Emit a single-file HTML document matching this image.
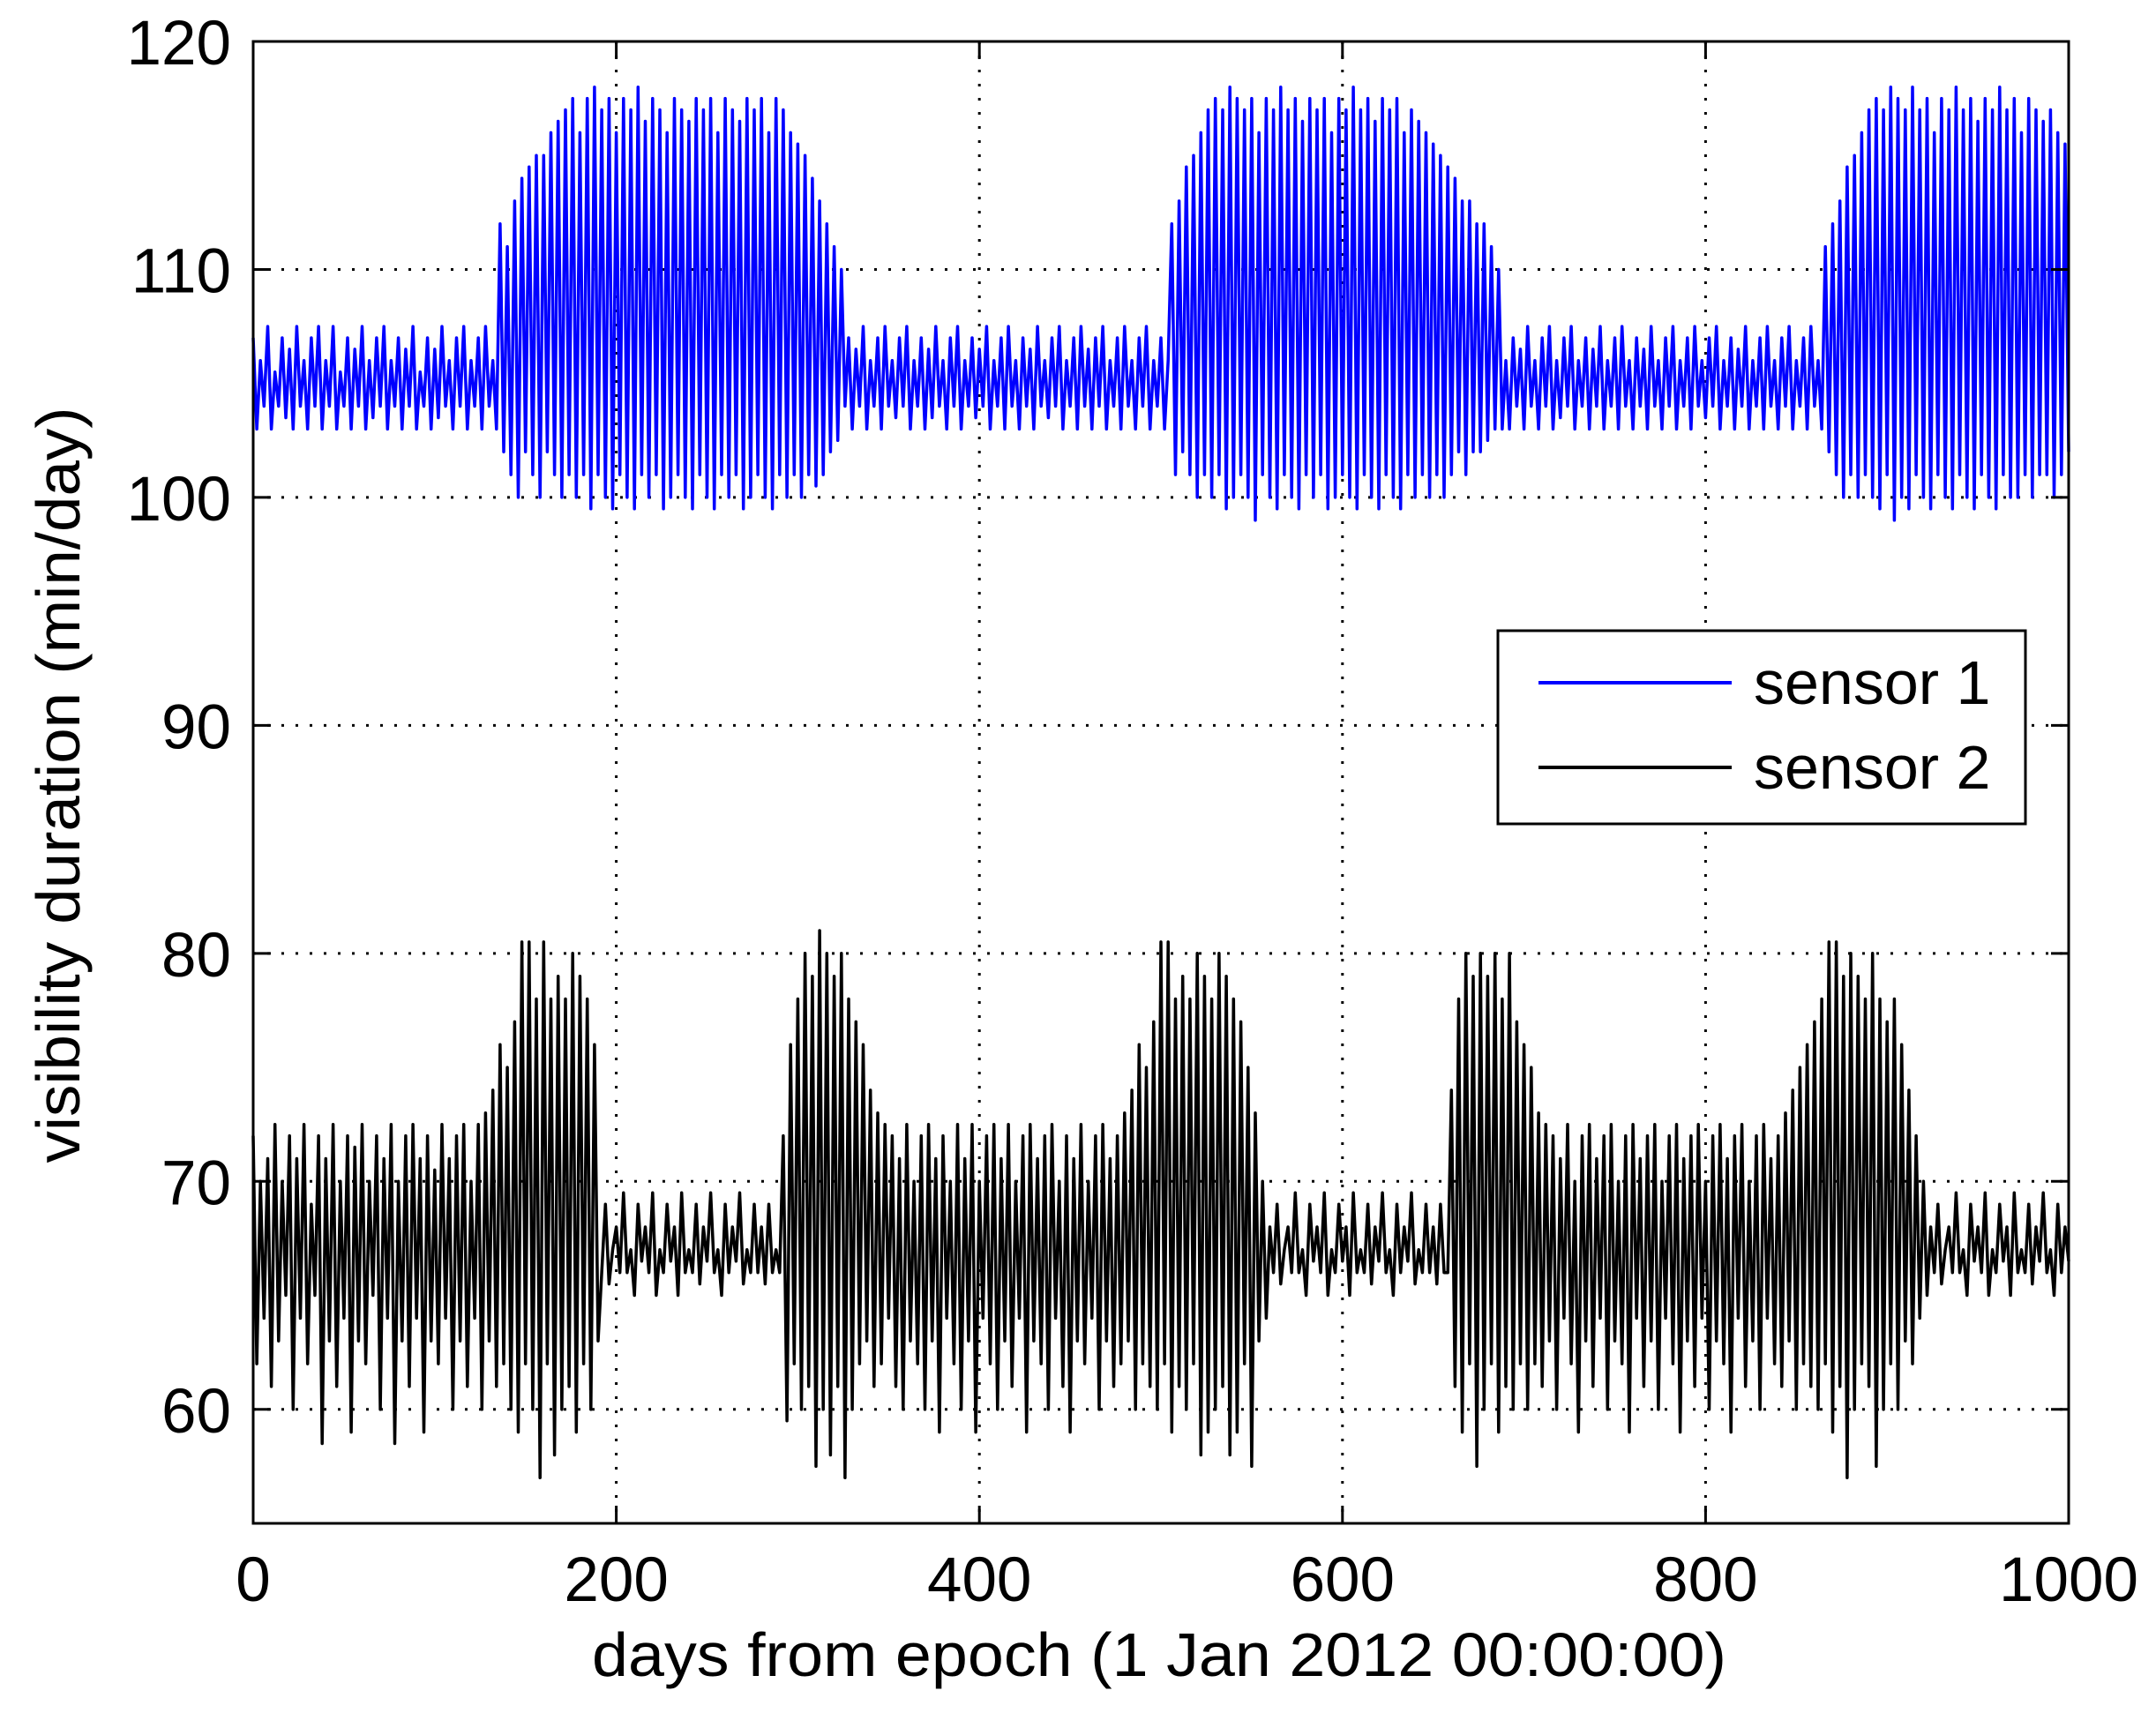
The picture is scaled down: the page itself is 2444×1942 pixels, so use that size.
<!DOCTYPE html>
<html><head><meta charset="utf-8"><style>
html,body{margin:0;padding:0;background:#fff}
svg{display:block;font-family:"Liberation Sans",Arial,sans-serif}
</style></head><body>
<svg id="chart" width="2444" height="1942" viewBox="0 0 2444 1942" xmlns="http://www.w3.org/2000/svg">
<rect width="2444" height="1942" fill="#fff"/>
<g id="grid"></g>
<g id="series"></g>
<rect x="287" y="47" width="2058" height="1680" fill="none" stroke="#000" stroke-width="3"/>
<g id="ticks"></g>
<text x="1314" y="1900" font-size="70" text-anchor="middle" textLength="1286" lengthAdjust="spacingAndGlyphs">days from epoch (1 Jan 2012 00:00:00)</text>
<text transform="translate(90,890) rotate(-90)" font-size="70" text-anchor="middle" textLength="857" lengthAdjust="spacingAndGlyphs">visibility duration (min/day)</text>
<g>
<rect x="1698" y="715" width="598" height="219" fill="#fff" stroke="#000" stroke-width="3"/>
<line x1="1744" y1="774" x2="1963" y2="774" stroke="#0000ff" stroke-width="4"/>
<text x="1988" y="798" font-size="70">sensor 1</text>
<line x1="1744" y1="870" x2="1963" y2="870" stroke="#000" stroke-width="4"/>
<text x="1988" y="894" font-size="70">sensor 2</text>
</g>
</svg>
<script>
const xTicks = [0,200,400,600,800,1000];
const yTicks = [60,70,80,90,100,110,120];
const xTickLabels = ["0","200","400","600","800","1000"];
const yTickLabels = ["60","70","80","90","100","110","120"];
const dayStep = 2;
const sensor1 = [
107,103,106,104,107.5,103,105.5,104,107,103.5,106.5,103,107.5,104,106,103,107,104,107.5,103,
106,104,107.5,103,105.5,104,107,103,106.5,104,107.5,103,106,103.5,107,104,107.5,103,106,104,
107,103,106.5,104,107.5,103,105.5,104,107,103,106.5,103.5,107.5,104,106,103,107,104,107.5,103,
106,104,107,103,107.5,104,106,103,
112,102,111,101,113,100,114,102,114.5,101,115,100,115,102,116,101,116.5,100,117,101,
117.5,100,116,101,117.5,99.5,118,101,117,100,117.5,99.5,116,101,117.5,100,117,99.5,118,101,
116.5,100,117.5,101,117,99.5,116,100,117.5,101,117,100,116.5,99.5,117.5,101,117,100,117.5,99.5,
116,101,117.5,100,117,101,116.5,99.5,117.5,100,117,101,117.5,100,116,99.5,117.5,101,117,100,
116,101,115.5,100,115,101,114,100.5,113,101,112,102,111,102.5,110,
104,107,103,106.5,104,107.5,103,106,104,107,103,107.5,104,106,103.5,107,104,107.5,103,106,
104,107,103,106.5,103.5,107.5,104,106,103,107,104,107.5,103,106,104,107,103.5,106.5,104,107.5,
103,106,104,107,103,107.5,104,106,103,107,104,106.5,103,107.5,104,106,103.5,107,104,107.5,
103,106,104,107,103,107.5,104,106.5,103,107,104,107.5,103,106,104,107,103,107.5,104,106,
103,107,104,107.5,103,106,104,107,103,106,
112,101,113,102,114.5,101,115,100,116,101,117,100,117.5,101,117,99.5,118,100,117.5,101,
117,100,117.5,99,116,101,117.5,100,117,99.5,118,101,117,100,117.5,99.5,116.5,101,117.5,100,
117,101,117.5,99.5,116,100,117.5,101,117,100,118,99.5,117,101,117.5,100,116.5,99.5,117.5,101,
117,100,117.5,99.5,116,101,117,100,116.5,101,116,100,115.5,101,115,100,114.5,101,114,102,
113,101,113,102,112,102,112,102.5,111,103,110,103,106,
103,107,104,106.5,103,107.5,104,106,103,107,104,107.5,103,106,103.5,107,104,107.5,103,106,
104,107,103,106.5,104,107.5,103,106,104,107,103,107.5,104,106,103,107,104,106.5,103,107.5,
104,106,103,107,104,107.5,103,106,104,107,103,107.5,104,106,103.5,107,104,107.5,103,106,
104,107,103,106.5,104,107.5,103,106,104,107,103,107.5,104,106,103,107,104,107.5,103,106,
104,107,103,107.5,104,106,103,
111,102,112,101,113,100,114.5,101,115,100,116,101,117,100,117.5,99.5,117,101,118,99,
117.5,100,117,99.5,118,101,117,100,117.5,99.5,116,101,117.5,100,117,99.5,118,101,117,100,
117.5,99.5,116.5,101,117.5,100,117,99.5,118,101,117,100,117.5,100,116,101,117.5,100,117,101,
116.5,101,117,100,116,101,115.5,102
];
const sensor2 = [
72,62,70,64,71,61,72.5,63,70,65,72,60,71,64,72.5,62,69,65,72,58.5,
71,63,72.5,61,70,64,72,59,71.5,63,72.5,62,70,65,72,60,71,64,72.5,58.5,
70,63,72,61,72.5,64,71,59,72,63,70.5,62,72.5,64,71,60,72,63,72.5,61,
70,64,72.5,60,73,63,74,61,76,62,75,60,77,59,80.5,62,80.5,60,78,57,
80.5,62,78,58,79,60,78,61,80,59,79,62,78,60,76,63,
66,69,65.5,67,68,66,69.5,66,67,65,69,66.5,68,66,69.5,65,67,66,69,66.5,
68,65,69.5,66,67,66,69,65.5,68,66.5,69.5,66,67,65,69,66,68,66.5,69.5,65.5,
67,66,69,66,68,65.5,69,66,67,66,
72,59.5,76,62,78,60,80,61,79,57.5,81,60,80,58,79,61,80,57,78,60,
77,62,76,63,74,61,73,62,72.5,64,72,61,71,60,72.5,63,70,62,72,60,
72.5,63,71,59,72,64,70,62,72.5,60,71,63,72.5,59,70,64,72,62,72.5,60,
71,63,72.5,61,70,64,72,59,72.5,63,71,62,72,60,72.5,64,70,61,72,59,
71,63,72.5,62,70,64,72,60,72.5,63,71,61,72,62,73,63,74,60,76,62,
75,61,77,60,80.5,62,80.5,59,78,61,79,60,78,62,80,58,79,59,78,60,
80,61,79,58,78,59,77,62,75,57.5,73,63,70,64,68,
66,69,65.5,67,68,66,69.5,66,67,65,69,66.5,68,66,69.5,65,67,66,69,66.5,
68,65,69.5,66,67,66,69,65.5,68,66.5,69.5,66,67,65,69,66,68,66.5,69.5,65.5,
67,66,69,66,68,65.5,69,66,66,
74,61,78,59,80,62,79,57.5,80,60,79,62,80,59,78,61,80,60,77,62,
76,60,75,62,73,61,72.5,63,72,60,71,64,72.5,62,70,59,72,63,72.5,61,
71,64,72,60,72.5,63,70,62,72,59,72.5,64,71,61,72,63,72.5,60,70,64,
72,62,72.5,59,71,63,72,61,72.5,64,70,60,72,63,72.5,62,71,59,72,64,
72.5,61,70,63,72,60,72.5,64,71,62,72,61,73,63,74,60,75,62,76,61,
77,60,78,62,80.5,59,80.5,61,79,57,80,60,79,62,78,61,80,57.5,78,60,
77,62,78,60,76,63,74,62,72,64,70,65,68,
66,69,65.5,67,68,66,69.5,66,67,65,69,66.5,68,66,69.5,65,67,66,69,66.5,
68,65,69.5,66,67,66,69,65.5,68,66.5,69.5,66,67,65,69,66,68,66.5
];
const L=287,R=2345,T=47,B=1727,XMIN=0,XMAX=1000,YMIN=55,YMAX=120;
function sx(v){return L+(v-XMIN)/(XMAX-XMIN)*(R-L);}
function sy(v){return B-(v-YMIN)/(YMAX-YMIN)*(B-T);}
const NS="http://www.w3.org/2000/svg";
function mk(tag,attrs,parent){const e=document.createElementNS(NS,tag);for(const k in attrs)e.setAttribute(k,attrs[k]);parent.appendChild(e);return e;}
const grid=document.getElementById('grid'),ticks=document.getElementById('ticks'),series=document.getElementById('series');
xTicks.forEach((v,i)=>{
  const x=sx(v);
  if(v>XMIN&&v<XMAX){const g=mk('line',{x1:x,y1:T,x2:x,y2:B,stroke:'#000','stroke-width':3,'stroke-dasharray':'3 13'},grid);
  
  }
  const t1=mk('line',{x1:x,y1:B,x2:x,y2:B-20,stroke:'#000','stroke-width':3},ticks);
  
  
  const t2=mk('line',{x1:x,y1:T,x2:x,y2:T+20,stroke:'#000','stroke-width':3},ticks);
  
  
  const lb=mk('text',{x:x,y:1815,'font-size':71,'text-anchor':'middle'},ticks);
  lb.textContent=xTickLabels[i];
  
  
});
yTicks.forEach((v,i)=>{
  const y=sy(v);
  if(v<YMAX){const g=mk('line',{x1:L,y1:y,x2:R,y2:y,stroke:'#000','stroke-width':3,'stroke-dasharray':'3 13'},grid);
  
  }
  const t1=mk('line',{x1:L,y1:y,x2:L+20,y2:y,stroke:'#000','stroke-width':3},ticks);
  
  
  const t2=mk('line',{x1:R,y1:y,x2:R-20,y2:y,stroke:'#000','stroke-width':3},ticks);
  
  
  const lb=mk('text',{x:262,y:y+26,'font-size':71,'text-anchor':'end'},ticks);
  lb.textContent=yTickLabels[i];
  
  
});
function path(vals,color,name){
  const d=vals.map((v,i)=>(i?'L':'M')+sx(i*dayStep).toFixed(1)+' '+sy(v).toFixed(1)).join('');
  const p=mk('path',{d:d,fill:'none',stroke:color,'stroke-width':3.5,'stroke-linejoin':'round'},series);
  
  
}
path(sensor1,'#0000ff','sensor-1-line');
path(sensor2,'#000000','sensor-2-line');
</script>
</body></html>
